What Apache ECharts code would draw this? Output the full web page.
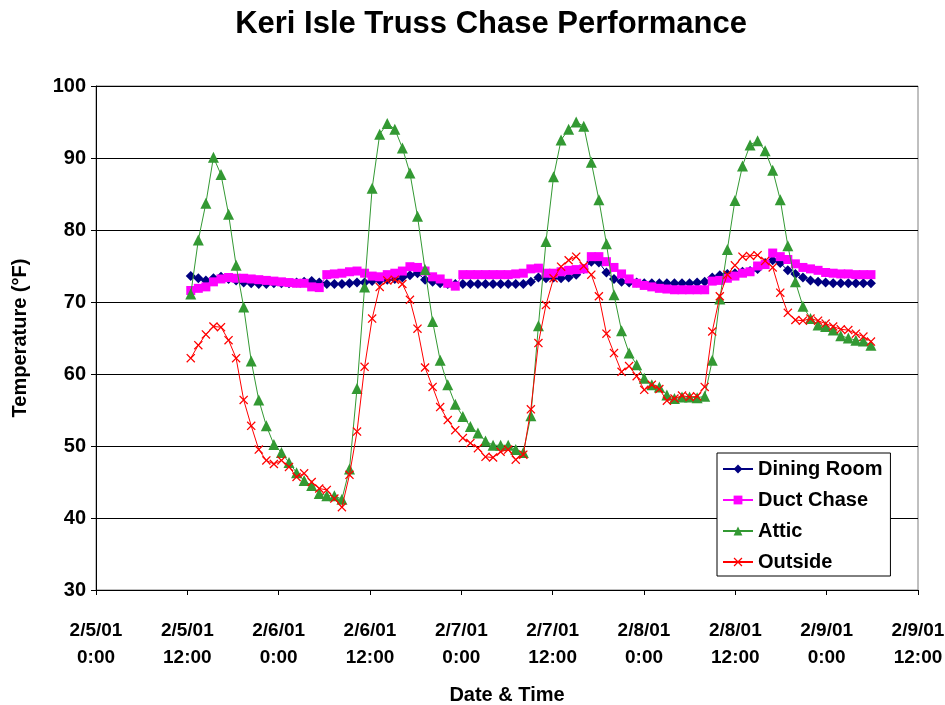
<!DOCTYPE html>
<html>
<head>
<meta charset="utf-8">
<script src="https://cdn.jsdelivr.net/npm/echarts@6/dist/echarts.min.js"></script>
<style>
  html, body { margin: 0; padding: 0; background: #fff; }
  #chart { width: 945px; height: 705px; }
</style>
</head>
<body>
<div id="chart"></div>
<script>
// Hourly logger readings, 2/5/01 midday through 2/9/01 morning (°F)
const diningRoom = [
  73.6, 73.3, 73.0, 73.3, 73.5, 73.2, 73.0, 72.7, 72.6, 72.5,
  72.5, 72.6, 72.6, 72.6, 72.7, 72.8, 72.9, 72.7, 72.5, 72.5,
  72.5, 72.6, 72.7, 72.7, 72.9, 73.0, 73.1, 73.2, 73.4, 73.7,
  74.0, 73.1, 72.8, 72.6, 72.5, 72.5, 72.5, 72.5, 72.5, 72.5,
  72.5, 72.5, 72.5, 72.5, 72.5, 72.8, 73.4, 73.3, 73.4, 73.3,
  73.4, 73.8, 74.6, 75.6, 75.5, 74.1, 73.2, 72.8, 72.7, 72.7,
  72.6, 72.6, 72.6, 72.6, 72.6, 72.6, 72.6, 72.7, 72.8, 73.4,
  73.7, 73.9, 74.0, 74.2, 74.3, 74.6, 75.4, 75.8, 75.4, 74.4,
  73.9, 73.4, 73.0, 72.8, 72.7, 72.6, 72.6, 72.6, 72.6, 72.6,
  72.6
];
const ductChase = [
  71.6, 71.9, 72.1, 72.8, 73.2, 73.4, 73.3, 73.3, 73.2, 73.1,
  73.0, 72.9, 72.8, 72.7, 72.6, 72.6, 72.1, 72.0, 73.8, 73.9,
  74.0, 74.2, 74.3, 74.0, 73.6, 73.5, 73.8, 74.0, 74.3, 74.9,
  74.8, 74.3, 73.5, 73.2, 72.6, 72.2, 73.8, 73.8, 73.8, 73.8,
  73.8, 73.8, 73.8, 73.9, 74.0, 74.6, 74.7, 74.0, 74.0, 74.2,
  74.4, 74.5, 74.6, 76.3, 76.3, 75.6, 74.8, 73.9, 73.2, 72.6,
  72.3, 72.1, 71.9, 71.8, 71.7, 71.7, 71.7, 71.7, 71.7, 72.9,
  73.0, 73.3, 73.6, 74.0, 74.2, 75.0, 75.2, 76.8, 76.3, 75.9,
  75.3, 74.8, 74.6, 74.4, 74.1, 74.0, 73.9, 73.9, 73.8, 73.8,
  73.8
];
const attic = [
  71.1, 78.6, 83.7, 90.1, 87.7, 82.2, 75.1, 69.3, 61.8, 56.4,
  52.8, 50.2, 49.1, 47.7, 46.3, 45.2, 44.5, 43.4, 43.1, 43.1,
  42.6, 46.8, 58.0, 72.1, 85.8, 93.3, 94.8, 94.0, 91.4, 87.9,
  81.9, 74.5, 67.3, 61.9, 58.5, 55.8, 54.1, 52.7, 51.8, 50.7,
  50.1, 50.1, 50.1, 49.5, 49.1, 54.2, 66.7, 78.4, 87.4, 92.5,
  94.0, 95.0, 94.4, 89.4, 84.2, 78.1, 71.0, 66.0, 62.9, 61.3,
  59.4, 58.5, 58.2, 57.1, 56.6, 56.8, 56.8, 56.7, 56.9, 61.9,
  70.4, 77.3, 84.1, 88.9, 91.8, 92.4, 91.0, 88.3, 84.2, 77.8,
  72.8, 69.4, 67.7, 66.8, 66.6, 66.1, 65.3, 65.0, 64.7, 64.6,
  64.0
];
const outside = [
  62.2, 64.0, 65.5, 66.6, 66.5, 64.7, 62.2, 56.4, 52.8, 49.5,
  48.0, 47.5, 48.0, 47.1, 45.7, 46.2, 45.0, 44.1, 43.9, 42.7,
  41.5, 46.0, 52.0, 61.0, 67.7, 72.1, 73.0, 73.1, 72.5, 70.3,
  66.3, 60.9, 58.2, 55.4, 53.6, 52.2, 51.1, 50.4, 49.7, 48.5,
  48.4, 49.2, 49.5, 48.1, 48.8, 55.1, 64.3, 69.6, 73.3, 74.9,
  75.8, 76.3, 75.0, 73.8, 70.8, 65.6, 62.9, 60.3, 61.1, 59.7,
  57.8, 58.5, 57.9, 56.3, 56.6, 57.0, 56.8, 56.9, 58.2, 65.9,
  70.8, 73.8, 75.1, 76.3, 76.4, 76.5, 75.7, 74.8, 71.3, 68.5,
  67.5, 67.4, 67.7, 67.4, 67.0, 66.6, 66.2, 66.1, 65.6, 65.2,
  64.5
];

// Time-axis tick labels, one every 12 hours from 2/5/01 0:00
const tickLabels = [
  '2/5/01\n0:00', '2/5/01\n12:00', '2/6/01\n0:00', '2/6/01\n12:00',
  '2/7/01\n0:00', '2/7/01\n12:00', '2/8/01\n0:00', '2/8/01\n12:00',
  '2/9/01\n0:00', '2/9/01\n12:00'
];

// Reading times, in hours after 2/5/01 0:00 (logger interval just under one hour)
const firstReading = 12.45;
const readingInterval = 0.993;
const hours = diningRoom.map((_, i) => firstReading + i * readingInterval);
const pairs = values => values.map((v, i) => [hours[i], v]);

const FONT = '"Liberation Sans", Arial, sans-serif';
const crossPath = 'path://M0,1 L1,0 L5,4 L9,0 L10,1 L6,5 L10,9 L9,10 L5,6 L1,10 L0,9 L4,5 Z';

const chart = echarts.init(document.getElementById('chart'), null, { renderer: 'canvas' });

function lineSeries(name, values, color, symbol, size, z) {
  return {
    name, type: 'line', data: pairs(values), z,
    symbol, symbolSize: size, showSymbol: true,
    lineStyle: { color, width: 1 },
    itemStyle: { color, borderWidth: 0 },
    emphasis: { disabled: true },
    animation: false
  };
}

chart.setOption({
  backgroundColor: '#fff',
  animation: false,
  title: {
    text: 'Keri Isle Truss Chase Performance',
    left: 486, top: 4, textAlign: 'center',
    textStyle: { fontFamily: FONT, fontWeight: 'bold', fontSize: 31, color: '#000' }
  },
  grid: {
    left: 96, right: 27, top: 86, bottom: 115,
    containLabel: false, outerBoundsMode: 'none',
    show: true, borderColor: '#808080', borderWidth: 1, backgroundColor: '#fff'
  },
  legend: {
    orient: 'vertical', left: 717, top: 453,
    backgroundColor: '#fff', borderColor: '#000', borderWidth: 1,
    padding: [6, 8, 4, 5],
    itemWidth: 30, itemHeight: 11, itemGap: 11,
    textStyle: { fontFamily: FONT, fontWeight: 'bold', fontSize: 20, color: '#000', lineHeight: 20 },
    data: ['Dining Room', 'Duct Chase', 'Attic', 'Outside']
  },
  xAxis: {
    type: 'value', min: 0, max: 108, interval: 12,
    name: 'Date & Time', nameLocation: 'middle', nameGap: 95,
    nameTextStyle: { fontFamily: FONT, fontWeight: 'bold', fontSize: 20, color: '#000' },
    axisLine: { show: true, lineStyle: { color: '#000', width: 1 } },
    axisTick: { show: true, length: 5, lineStyle: { color: '#000' } },
    splitLine: { show: false },
    axisLabel: {
      margin: 27, lineHeight: 27,
      fontFamily: FONT, fontWeight: 'bold', fontSize: 19, color: '#000',
      formatter: v => tickLabels[Math.round(v / 12)] || ''
    }
  },
  yAxis: {
    type: 'value', min: 30, max: 100, interval: 10,
    name: 'Temperature (°F)', nameLocation: 'middle', nameGap: 66, nameRotate: 90,
    nameTextStyle: { fontFamily: FONT, fontWeight: 'bold', fontSize: 20, color: '#000' },
    axisLine: { show: true, lineStyle: { color: '#000', width: 1 } },
    axisTick: { show: true, length: 5, lineStyle: { color: '#000' } },
    splitLine: { show: true, lineStyle: { color: '#000', width: 1 } },
    axisLabel: { margin: 10, fontFamily: FONT, fontWeight: 'bold', fontSize: 20, color: '#000' }
  },
  series: [
    lineSeries('Dining Room', diningRoom, '#000080', 'diamond', 10, 2),
    lineSeries('Duct Chase', ductChase, '#FF00FF', 'rect', 9, 3),
    lineSeries('Attic', attic, '#339933', 'triangle', 11, 4),
    lineSeries('Outside', outside, '#FF0000', crossPath, 9, 5)
  ]
});
</script>
</body>
</html>
